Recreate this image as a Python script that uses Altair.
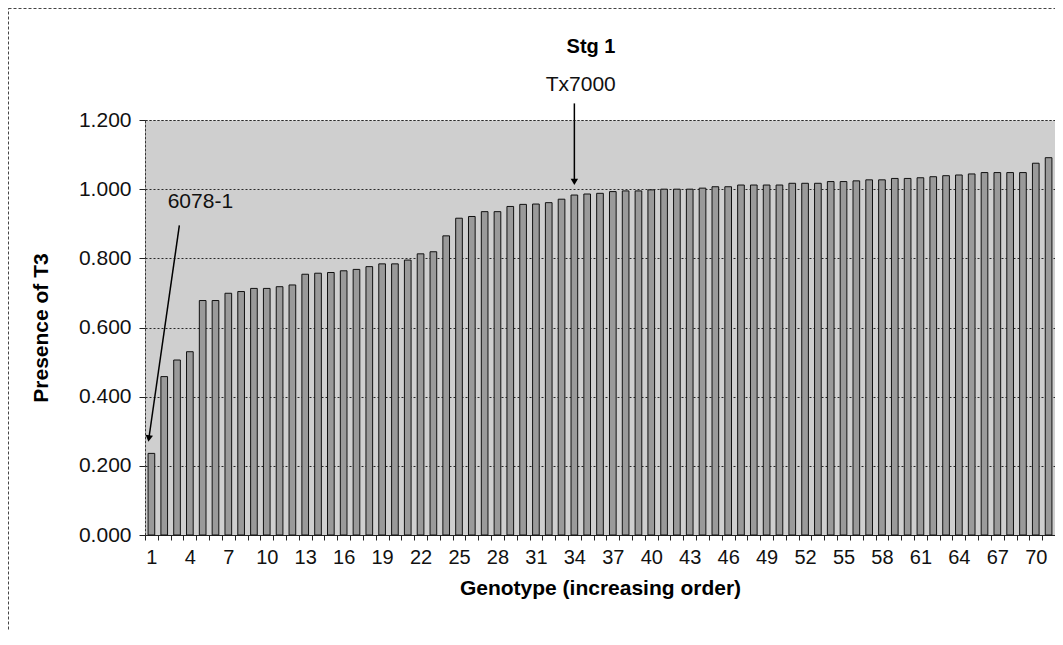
import altair as alt
import pandas as pd

# ---- data ----
genotype = list(range(1, 72))
presence = [0.236, 0.458, 0.506, 0.530, 0.678, 0.678, 0.699, 0.704, 0.713, 0.713,
            0.718, 0.723, 0.754, 0.757, 0.759, 0.764, 0.768, 0.776, 0.784, 0.784,
            0.795, 0.813, 0.819, 0.865, 0.916, 0.921, 0.935, 0.935, 0.950, 0.956,
            0.957, 0.961, 0.971, 0.983, 0.986, 0.988, 0.993, 0.995, 0.995, 0.998,
            1.000, 1.000, 1.000, 1.003, 1.007, 1.007, 1.012, 1.012, 1.012, 1.012,
            1.017, 1.017, 1.017, 1.022, 1.022, 1.024, 1.027, 1.027, 1.031, 1.031,
            1.033, 1.036, 1.039, 1.041, 1.044, 1.048, 1.048, 1.048, 1.048, 1.075,
            1.091]
y_ticks = [0.0, 0.2, 0.4, 0.6, 0.8, 1.0, 1.2]

title_text = ["Stg 1"]
title_geno = [35.3]
title_value = [1.395]

note_text = ["Tx7000", "6078-1"]
note_geno = [34.5, 4.82]
note_value = [1.283, 0.945]

arrow_geno_start = [34.0, 3.18]
arrow_value_start = [1.248, 0.895]
arrow_geno_end = [34.0, 0.80]
arrow_value_end = [1.021, 0.279]
arrow_angle = [0.0, 8.3]

bars_df = pd.DataFrame({"geno": genotype, "presence": presence})
title_df = pd.DataFrame({"gx": title_geno, "vy": title_value, "label": title_text})
note_df = pd.DataFrame({"gx": note_geno, "vy": note_value, "label": note_text})
arrow_df = pd.DataFrame({"gx": arrow_geno_start, "vy": arrow_value_start,
                         "gx2": arrow_geno_end, "vy2": arrow_value_end,
                         "ang": arrow_angle})

W, H = 910, 415
FONT = "Liberation Sans"

yscale = alt.Scale(domain=[0, 1.2], nice=False, zero=True)
yaxis = alt.Axis(values=y_ticks, format=".3f", title="Presence of T3",
                 labelFontSize=21, labelPadding=8, labelColor="#111111",
                 tickSize=6, tickColor="#222", domainColor="#333", domainDash=[2, 2],
                 grid=True, gridColor="#2a2a2a", gridDash=[2, 2], gridWidth=1,
                 titleFontSize=21, titleFontWeight="bold", titleColor="black",
                 titleX=-104, titleY=H / 2, titleBaseline="middle")


def yenc(field):
    return alt.Y(f"{field}:Q", scale=yscale, axis=yaxis)


xq = alt.Scale(domain=[0.5, 71.5], nice=False, zero=False)

bars = alt.Chart(bars_df).mark_bar(
    width=alt.RelativeBandSize(0.52), fill="#9a9a9a", stroke="#111111", strokeWidth=1
).encode(
    x=alt.X("geno:O", scale=alt.Scale(paddingInner=0, paddingOuter=0),
            axis=alt.Axis(title="Genotype (increasing order)",
                          labelExpr="(datum.value - 1) % 3 == 0 ? datum.label : ''",
                          labelAngle=0, labelOverlap=False, labelFontSize=20,
                          labelPadding=7, labelColor="#111111",
                          tickBand="extent", tickSize=5, tickColor="#222",
                          domainColor="#222", grid=False,
                          titleFontSize=21, titleFontWeight="bold", titleColor="black",
                          titleY=53, titleBaseline="middle")),
    y=yenc("presence"),
)

arrows = alt.Chart(arrow_df).mark_rule(color="black", strokeWidth=1.5).encode(
    x=alt.X("gx:Q", scale=xq, axis=None),
    x2="gx2:Q",
    y=yenc("vy"),
    y2="vy2:Q",
)

heads = alt.Chart(arrow_df).mark_point(
    shape="triangle-down", filled=True, size=55, color="black", opacity=1
).encode(
    x=alt.X("gx2:Q", scale=xq, axis=None),
    y=yenc("vy2"),
    angle=alt.Angle("ang:Q", scale=None),
)

notes = alt.Chart(note_df).mark_text(
    fontSize=21, baseline="alphabetic", align="center", color="#111111", font=FONT
).encode(
    x=alt.X("gx:Q", scale=xq, axis=None),
    y=yenc("vy"),
    text="label:N",
)

title = alt.Chart(title_df).mark_text(
    fontSize=20, fontWeight="bold", baseline="alphabetic", align="center",
    color="black", font=FONT
).encode(
    x=alt.X("gx:Q", scale=xq, axis=None),
    y=yenc("vy"),
    text="label:N",
)

frame = alt.Chart(title_df).mark_rect(
    fillOpacity=0, stroke="#444444", strokeWidth=1, strokeDash=[3, 2]
).encode(
    x=alt.value(-136.5), x2=alt.value(W + 80),
    y=alt.value(-111.5), y2=alt.value(H + 200),
)

chart = alt.layer(bars, arrows, heads, notes, title, frame).resolve_scale(
    x="independent"
).properties(
    width=W, height=H,
    padding={"left": 137, "top": 112, "right": 0, "bottom": 95},
    autosize=alt.AutoSizeParams(type="none"),
).configure(
    font=FONT,
).configure_view(
    fill="#cfcfcf", stroke="#444444", strokeDash=[2, 2]
)

chart.save("out.html", embed_options={"renderer": "svg", "actions": False})
